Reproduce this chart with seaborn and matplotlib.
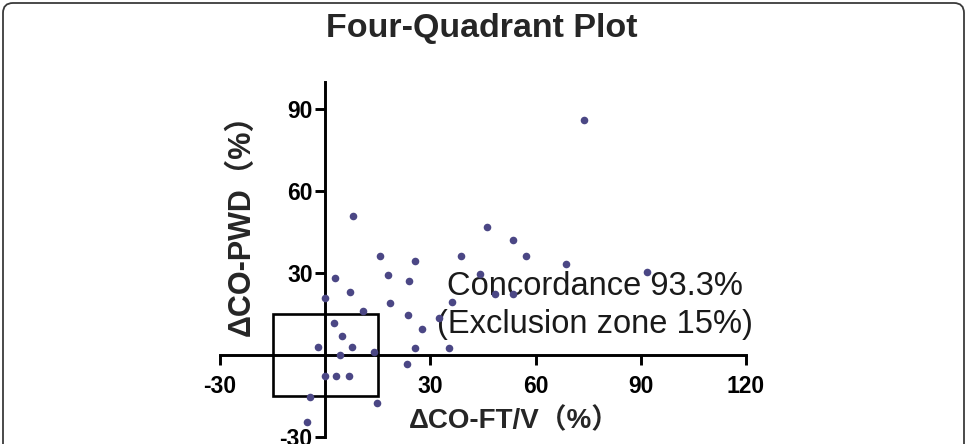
import matplotlib
matplotlib.use("Agg")
import matplotlib.pyplot as plt
from matplotlib.patches import Rectangle, FancyBboxPatch
import seaborn as sns
import pandas as pd

# data (percent change)
co_ftv = [8.0, 15.7, 25.6, 2.8, 17.9, 23.9, 7.1, 0.0, 18.5, 10.8,
          23.6, 2.6, 27.6, 4.8, -2.0, 7.7, 25.6, 14.0, 4.3, 23.4,
          0.0, 3.1, 6.8, -4.3, 14.8, -5.1, 35.3, 46.2, 53.6, 38.7,
          57.3, 68.7, 44.2, 48.4, 53.6, 36.2, 32.5, 91.7, 73.8]
co_pwd = [50.9, 36.3, 34.4, 28.2, 29.3, 27.1, 23.1, 20.9, 19.0, 16.1,
          14.7, 11.7, 9.5, 7.0, 2.9, 2.9, 2.6, 1.1, 0.0, -3.3,
          -7.7, -7.7, -7.7, -15.4, -17.6, -24.5, 2.6, 46.9, 42.1, 36.3,
          36.3, 33.3, 29.7, 22.3, 22.3, 19.4, 13.6, 30.4, 86.1]
exclusion_zone = 15
concordance = 93.3
x_ticks = [-30, 30, 60, 90, 120]
y_ticks = [-30, 30, 60, 90]

df = pd.DataFrame({"ftv": co_ftv, "pwd": co_pwd})

sns.set_style("ticks")
plt.rcParams['font.family'] = ['Liberation Sans', 'Noto Sans CJK SC', 'DejaVu Sans']
plt.rcParams['axes.unicode_minus'] = False

fig = plt.figure(figsize=(9.67, 4.44), dpi=100)
ax = fig.add_axes([220 / 967, 7 / 444, 526 / 967, 355 / 444])
ax.patch.set_alpha(0)

sns.scatterplot(data=df, x="ftv", y="pwd", ax=ax, color="#4b4785", s=30,
                linewidth=0, zorder=3)

# exclusion zone box
ax.add_patch(Rectangle((-exclusion_zone, -exclusion_zone), 2 * exclusion_zone,
                       2 * exclusion_zone, fill=False, edgecolor="black",
                       linewidth=1.9, zorder=2))

ax.set_xlim(-30, 120)
ax.set_ylim(-30, 100)
for side in ["top", "right"]:
    ax.spines[side].set_visible(False)
for side in ["left", "bottom"]:
    ax.spines[side].set_position(("data", 0))
    ax.spines[side].set_linewidth(2.1)
    ax.spines[side].set_color("black")

ax.set_xticks(x_ticks)
ax.set_yticks(y_ticks)
ax.tick_params(axis="x", bottom=True, direction="out", length=7, width=2.1,
               pad=7, labelsize=16.5, colors="black")
ax.tick_params(axis="y", left=True, direction="out", length=7, width=2.1,
               pad=2, labelsize=16.5, colors="black")
for lab in ax.get_xticklabels() + ax.get_yticklabels():
    lab.set_fontweight("bold")

ax.set_xlabel("ΔCO-FT/V（%）", fontsize=20, fontweight="bold")
ax.set_ylabel("ΔCO-PWD（%）", fontsize=22, fontweight="bold")
ax.xaxis.set_label_coords((514 - 220) / 526, (437 - 421) / 355)
ax.yaxis.set_label_coords((242 - 220) / 526, (437 - 218) / 355)
ax.xaxis.label.set_va("center")
ax.yaxis.label.set_va("center")

ax.text(77, 22.0, f"Concordance {concordance}%", ha="center", va="baseline",
        fontsize=23.5, color="#1a1a1a", zorder=1)
ax.text(77, 8.1, f"(Exclusion zone {exclusion_zone}%)", ha="center",
        va="baseline", fontsize=23.5, color="#1a1a1a", zorder=1)

fig.text(482 / 967, 1 - 29 / 444, "Four-Quadrant Plot", ha="center",
         va="center", fontsize=24.5, fontweight="bold")

# rounded frame around the figure
frame = FancyBboxPatch((0.03, -0.3), 9.61, 4.71,
                       boxstyle="round,pad=0,rounding_size=0.1",
                       transform=fig.dpi_scale_trans, fill=False,
                       edgecolor="#3a3a3a", linewidth=1.3)
fig.patches.append(frame)

fig.savefig("out.png", dpi=100)
